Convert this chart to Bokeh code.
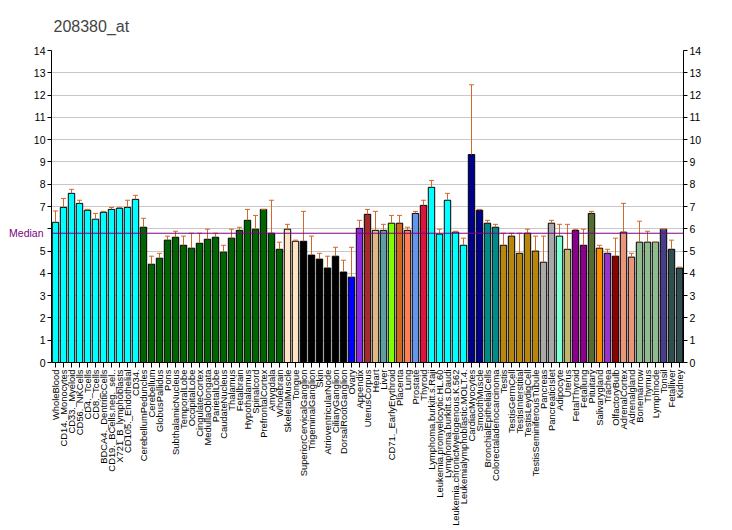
import math
from bokeh.plotting import figure
from bokeh.models import (FactorRange, Range1d, LinearAxis, Span,
                          FixedTicker, ColumnDataSource)
from bokeh.embed import file_html
from bokeh.resources import INLINE

title_text = "208380_at"

labels = [
    "WholeBlood", "CD14._Monocytes", "CD33._Myeloid", "CD56._NKCells", "CD4._Tcells",
    "CD8._Tcells", "BDCA4._DentriticCells", "CD19._BCells.neg._sel..", "X721_B_lymphoblasts",
    "CD105._Endothelial", "CD34.", "CerebellumPeduncles", "Cerebellum", "GlobusPallidus",
    "Pons", "SubthalamicNucleus", "TemporalLobe", "OccipitalLobe", "CingulateCortex",
    "MedullaOblongata", "ParietalLobe", "CaudateNucleus", "Thalamus", "Fetalbrain",
    "Hypothalamus", "Spinalcord", "PrefrontalCortex", "Amygdala", "Wholebrain",
    "SkeletalMuscle", "Tongue", "SuperiorCervicalGanglion", "TrigeminalGanglion", "Skin",
    "AtrioventricularNode", "CiliaryGanglion", "DorsalRootGanglion", "Ovary", "Appendix",
    "UterusCorpus", "Heart", "Liver", "CD71._EarlyErythroid", "Placenta", "Lung",
    "Prostate", "Thyroid", "Lymphoma.burkitt.s.Raji", "Leukemia.promyelocytic.HL.60",
    "Lymphoma.burkitt.s.Daudi", "Leukemia.chronicMyelogenous.K.562",
    "Leukemialymphoblastic.MOLT.4.", "CardiacMyocytes", "SmoothMuscle",
    "BronchialEpithelialCells", "Colorectaladenocarcinoma", "Testis", "TestisGermCell",
    "TestisInterstitial", "TestisLeydigCell", "TestisSeminiferousTubule", "Pancreas",
    "PancreaticIslet", "Adipocyte", "Uterus", "FetalThyroid", "Fetallung", "Pituitary",
    "Salivarygland", "Trachea", "OlfactoryBulb", "AdrenalCortex", "Adrenalgland",
    "Bonemarrow", "Thymus", "Lymphnode", "Tonsil", "Fetalliver", "Kidney",
]

values = [
    6.29, 6.96, 7.59, 7.14, 6.83, 6.43, 6.74, 6.87, 6.92, 6.96, 7.32,
    6.07, 4.41, 4.68, 5.49, 5.62, 5.26, 5.13, 5.35, 5.53, 5.62, 4.95, 5.58, 5.93,
    6.38, 5.98, 6.87, 5.80, 5.08,
    5.98, 5.44, 5.44, 4.82, 4.64, 4.24, 4.77, 4.06, 3.83, 6.02, 6.65, 5.93, 5.93,
    6.25, 6.25, 5.93, 6.69, 7.05, 7.86, 5.76, 7.28, 5.85, 5.26, 9.33, 6.83,
    6.25, 6.07, 5.26, 5.67, 4.90, 5.80, 5.00, 4.50, 6.25, 5.67, 5.08, 5.93, 5.26,
    6.69, 5.13, 4.90, 4.77, 5.85, 4.73, 5.40, 5.40, 5.40, 5.98, 5.08, 4.24,
]

err_upper = [
    6.80, 7.36, 7.77, 7.28, 6.87, 6.69, 6.78, 6.96, 6.96, 7.28, 7.50,
    6.47, 4.77, 4.90, 5.67, 5.89, 5.67, 5.80, 5.80, 5.98, 5.80, 5.26, 5.98, 6.07,
    6.87, 6.60, 6.87, 7.28, 5.40,
    6.20, 5.49, 6.78, 5.67, 4.90, 4.77, 5.17, 4.59, 5.17, 6.38, 6.87, 6.78, 6.20,
    6.60, 6.60, 6.07, 6.78, 7.28, 8.17, 5.98, 7.59, 5.89, 5.58, 12.46, 6.87,
    6.38, 6.20, 5.80, 5.80, 5.80, 5.98, 5.67, 5.67, 6.38, 6.20, 6.20, 5.98, 5.98,
    6.78, 5.26, 5.08, 5.58, 7.14, 4.90, 6.34, 5.89, 5.40, 5.98, 5.49, 4.28,
]

colors = (
    ["#00FFFF"] * 11 + ["#006400"] * 18 + ["#FFE4C4"] * 2 + ["#000000"] * 6 +
    ["#0000FF", "#8A2BE2", "#A52A2A", "#DEB887", "#5F9EA0", "#7FFF00", "#D2691E",
     "#FF7F50", "#6495ED", "#DC143C"] +
    ["#00FFFF"] * 5 + ["#00008B"] * 2 + ["#008B8B"] * 2 + ["#B8860B"] * 5 +
    ["#A9A9A9"] * 2 + ["#7FFFD4", "#BDB76B", "#8B008B", "#8B008B", "#556B2F",
                       "#FF8C00", "#9932CC", "#8B0000", "#E9967A", "#E9967A"] +
    ["#8FBC8F"] * 3 + ["#483D8B"] + ["#2F4F4F"] * 2
)

median_value = 5.8
median_text = "Median"
y_ticks = list(range(0, 15))

FONT = "Liberation Sans"
ERR_COLOR = "#D0692A"

src = ColumnDataSource(dict(x=labels, top=values, up=err_upper, color=colors))

p = figure(
    x_range=FactorRange(factors=labels, range_padding=0),
    y_range=Range1d(0, 14),
    width=730, height=528,
    output_backend="svg", toolbar_location=None,
    min_border_left=51, min_border_right=47, min_border_top=50, min_border_bottom=165,
    title=title_text,
)
p.title.text_font = FONT
p.title.text_font_size = "16px"
p.title.text_font_style = "normal"
p.title.standoff = 31
p.title.offset = 2

p.outline_line_color = None
p.background_fill_color = "white"
p.border_fill_color = "white"

p.xgrid.grid_line_color = None
p.ygrid.ticker = FixedTicker(ticks=y_ticks)
p.ygrid.grid_line_color = "#C8C8C8"
p.ygrid.grid_line_width = 1

p.vbar(x="x", top="top", width=0.8, fill_color="color", line_color="black",
       line_width=1, source=src)
p.segment(x0="x", y0="top", x1="x", y1="up", line_color=ERR_COLOR, line_width=1,
          source=src)
p.scatter(x="x", y="up", marker="dash", size=5, line_color=ERR_COLOR, line_width=1,
          source=src)

p.add_layout(Span(location=median_value, dimension="width", line_color="#800080",
                  line_width=1))

# left axis (numbers)
yl = p.yaxis[0]
yl.ticker = FixedTicker(ticks=y_ticks)
yl.major_label_overrides = {6: ""}
yl.minor_tick_line_color = None
yl.major_tick_out = 4
yl.major_tick_in = 0
yl.major_label_standoff = 2
yl.major_label_text_font = FONT
yl.major_label_text_font_size = "10.5px"
yl.major_label_text_color = "black"
yl.axis_line_color = "black"

# second, outer left axis carrying only the "Median" label
ym = LinearAxis(ticker=FixedTicker(ticks=[median_value]))
ym.major_label_overrides = {median_value: median_text}
ym.axis_line_color = None
ym.major_tick_line_color = None
ym.minor_tick_line_color = None
ym.major_tick_out = 0
ym.major_tick_in = 0
ym.major_label_standoff = -13
ym.major_label_text_font = FONT
ym.major_label_text_font_size = "10.5px"
ym.major_label_text_color = "#800080"
p.add_layout(ym, "left")

yr = LinearAxis(ticker=FixedTicker(ticks=y_ticks))
yr.minor_tick_line_color = None
yr.major_tick_out = 4
yr.major_tick_in = 0
yr.major_label_standoff = 2
yr.major_label_text_font = FONT
yr.major_label_text_font_size = "10.5px"
yr.major_label_text_color = "black"
p.add_layout(yr, "right")

xa = p.xaxis[0]
xa.major_label_orientation = math.pi / 2
xa.major_label_text_font = FONT
xa.major_label_text_font_size = "9.4px"
xa.major_label_text_color = "black"
xa.major_tick_out = 5
xa.major_tick_in = 0
xa.major_label_standoff = 2
xa.axis_line_color = "black"

open("out.html", "w").write(file_html(p, INLINE))
